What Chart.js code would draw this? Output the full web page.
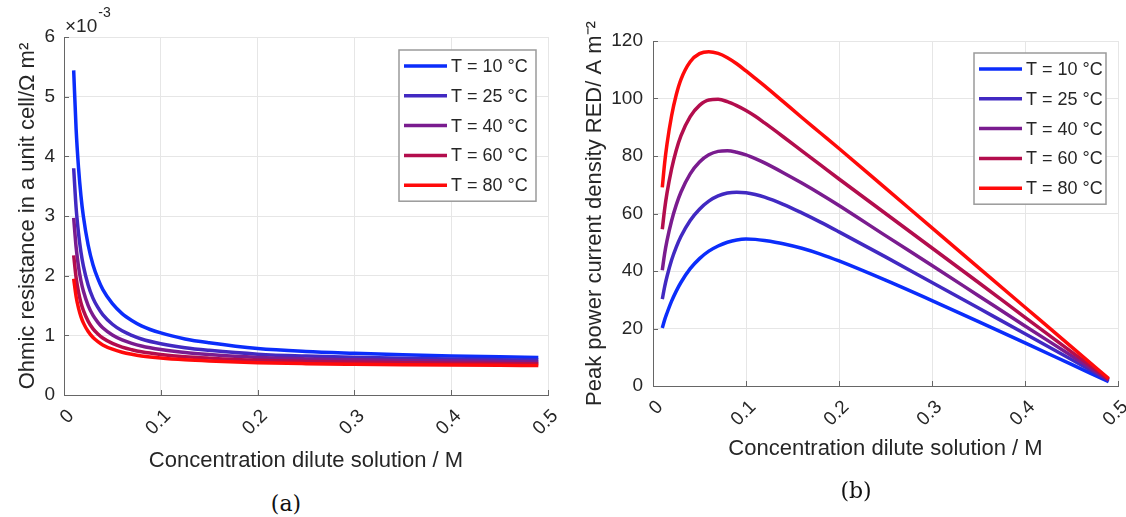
<!DOCTYPE html>
<html>
<head>
<meta charset="utf-8">
<title>Ohmic resistance and peak power current density</title>
<script src="https://cdn.jsdelivr.net/npm/chart.js@4.4.1/dist/chart.umd.min.js"></script>
<style>
  html, body { margin: 0; padding: 0; background: #fff; }
  body { width: 1126px; height: 517px; position: relative; overflow: hidden; }
  .panel { position: absolute; top: 0; }
  #panelA { left: 0; width: 560px; height: 480px; }
  #panelB { left: 560px; width: 566px; height: 480px; }
  .caption {
    position: absolute;
    font-family: "DejaVu Serif", "Liberation Serif", serif;
    font-size: 22px;
    color: #111;
    transform: translate(-50%, -50%);
  }
</style>
</head>
<body>
<div class="panel" id="panelA"><canvas id="resistanceChart" width="560" height="480"></canvas></div>
<div class="panel" id="panelB"><canvas id="powerChart" width="566" height="480"></canvas></div>
<div class="caption" style="left:286px; top:503px">(a)</div>
<div class="caption" style="left:856px; top:490px">(b)</div>

<script>
// ======================================
// Data
// ======================================

const seriesLabels = ["T = 10 °C", "T = 25 °C", "T = 40 °C", "T = 60 °C", "T = 80 °C"];
const seriesColors = ["#0b2dfb", "#4129c2", "#7a1c8f", "#b30d4d", "#ff0a0a"];

// (a) ohmic resistance in a unit cell, in units of 10^-3 Ω m²
const concA = [0.01, 0.0125, 0.015, 0.0175, 0.02, 0.025, 0.03, 0.035, 0.04, 0.05, 0.06, 0.07,
  0.08, 0.1, 0.125, 0.15, 0.2, 0.25, 0.3, 0.35, 0.4, 0.45, 0.49];
const ohmic10 = [5.44, 4.46, 3.81, 3.34, 2.995, 2.51, 2.18, 1.95, 1.77, 1.53, 1.365, 1.25,
  1.16, 1.04, 0.94, 0.876, 0.78, 0.73, 0.70, 0.675, 0.655, 0.64, 0.63];
const ohmic25 = [3.80, 3.14, 2.71, 2.395, 2.165, 1.84, 1.62, 1.467, 1.347, 1.186, 1.076, 1.0,
  0.939, 0.859, 0.792, 0.749, 0.685, 0.652, 0.632, 0.615, 0.602, 0.592, 0.585];
const ohmic40 = [2.97, 2.48, 2.15, 1.915, 1.742, 1.499, 1.333, 1.218, 1.127, 1.007, 0.924, 0.866,
  0.821, 0.761, 0.711, 0.678, 0.630, 0.605, 0.590, 0.578, 0.568, 0.56, 0.555];
const ohmic60 = [2.34, 1.969, 1.724, 1.547, 1.417, 1.234, 1.109, 1.023, 0.955, 0.864, 0.802, 0.759,
  0.725, 0.68, 0.642, 0.618, 0.582, 0.563, 0.551, 0.542, 0.534, 0.529, 0.525];
const ohmic80 = [1.95, 1.652, 1.455, 1.313, 1.209, 1.063, 0.963, 0.894, 0.839, 0.767, 0.717, 0.682,
  0.655, 0.619, 0.589, 0.569, 0.540, 0.525, 0.516, 0.509, 0.503, 0.498, 0.495];

// (b) peak power current density in the RED stack, A m^-2
const concB = [0.01, 0.0125, 0.015, 0.02, 0.025, 0.03, 0.04, 0.05, 0.06, 0.07, 0.08, 0.09,
  0.1, 0.11, 0.12, 0.14, 0.16, 0.18, 0.2, 0.25, 0.3, 0.35, 0.4, 0.45, 0.49];
const peak10 = [20.2, 23.0, 25.3, 29.5, 33.0, 36.0, 40.8, 44.3, 46.9, 48.7, 50.0, 50.8,
  51.1, 51.0, 50.6, 49.5, 47.9, 45.9, 43.5, 36.8, 29.7, 22.4, 15.0, 7.5, 1.5];
const peak25 = [30.2, 34.5, 38.0, 43.8, 48.3, 52.0, 57.6, 61.5, 64.3, 66.1, 67.1, 67.4,
  67.2, 66.6, 65.7, 63.2, 60.2, 57.0, 53.6, 44.9, 36.0, 27.1, 18.2, 9.2, 1.9];
const peak40 = [40.3, 46.0, 50.5, 57.5, 63.0, 67.4, 73.8, 77.9, 80.4, 81.6, 81.8, 81.3,
  80.4, 79.1, 77.6, 74.2, 70.6, 66.8, 62.8, 52.3, 41.9, 31.4, 20.9, 10.5, 2.1];
const peak60 = [54.5, 61.5, 67.0, 75.5, 82.0, 87.0, 93.7, 97.6, 99.5, 99.7, 98.9, 97.5,
  95.8, 93.8, 91.5, 86.7, 81.8, 76.9, 72.0, 60.0, 48.0, 36.0, 23.9, 11.9, 2.3];
const peak80 = [69.1, 77.5, 84.0, 94.0, 101.3, 106.6, 112.8, 115.6, 116.3, 115.7, 114.2, 112.1,
  109.6, 107.0, 104.4, 98.9, 93.4, 88.0, 82.6, 68.8, 55.0, 41.2, 27.4, 13.6, 2.6];

const xTicks = [0, 0.1, 0.2, 0.3, 0.4, 0.5];

// ======================================
// Shared styling
// ======================================

const FONT = "'Liberation Sans', Arial, Helvetica, sans-serif";
const TEXT_COLOR = "#262626";
const GRID_COLOR = "#e6e6e6";
const AXIS_COLOR = "#666666";

Chart.defaults.font.family = FONT;
Chart.defaults.color = TEXT_COLOR;

function buildDatasets(xs, seriesList) {
  return seriesList.map((values, i) => ({
    label: seriesLabels[i],
    data: values.map((v, k) => ({ x: xs[k], y: v })),
    borderColor: seriesColors[i],
    borderWidth: 3.5,
    pointRadius: 0,
    fill: false,
    cubicInterpolationMode: "monotone",
    order: seriesList.length - i,
  }));
}

// inward tick marks, rotated x labels, boxed legend and the axis exponent
const axisDecor = {
  id: "axisDecor",
  afterDraw(chart, args, opts) {
    const { ctx, chartArea: area } = chart;
    const x = chart.scales.x;
    const y = chart.scales.y;
    ctx.save();

    ctx.strokeStyle = AXIS_COLOR;
    ctx.lineWidth = 1;
    ctx.beginPath();
    x.ticks.forEach((t) => {
      const px = Math.round(x.getPixelForValue(t.value)) + 0.5;
      ctx.moveTo(px, area.bottom);
      ctx.lineTo(px, area.bottom - 5);
    });
    y.ticks.forEach((t) => {
      const py = Math.round(y.getPixelForValue(t.value)) + 0.5;
      ctx.moveTo(area.left, py);
      ctx.lineTo(area.left + 5, py);
    });
    ctx.stroke();

    ctx.fillStyle = TEXT_COLOR;
    ctx.font = "19px " + FONT;
    ctx.textAlign = "right";
    ctx.textBaseline = "middle";
    x.ticks.forEach((t) => {
      const px = x.getPixelForValue(t.value);
      ctx.save();
      ctx.translate(px + 7, area.bottom + 18);
      ctx.rotate(-Math.PI / 4);
      ctx.fillText(String(+t.value.toFixed(1)), 0, 0);
      ctx.restore();
    });

    if (opts.exponent) {
      ctx.textAlign = "left";
      ctx.textBaseline = "alphabetic";
      ctx.font = "19px " + FONT;
      const base = "\u00d710";
      ctx.fillText(base, area.left + 1, area.top - 5);
      const w = ctx.measureText(base).width;
      ctx.font = "14px " + FONT;
      ctx.fillText(opts.exponent, area.left + 2 + w, area.top - 20);
    }

    const lg = opts.legend;
    const datasets = chart.data.datasets;
    const boxRight = area.right - lg.right;
    const boxLeft = boxRight - lg.width;
    const boxTop = area.top + lg.top;
    const boxHeight = lg.pad * 2 + lg.rowHeight * (datasets.length - 1);
    ctx.fillStyle = "#ffffff";
    ctx.fillRect(boxLeft, boxTop, lg.width, boxHeight);
    ctx.strokeStyle = "#9a9a9a";
    ctx.lineWidth = 1.5;
    ctx.strokeRect(boxLeft, boxTop, lg.width, boxHeight);

    ctx.font = "18px " + FONT;
    ctx.textAlign = "left";
    ctx.textBaseline = "middle";
    datasets.forEach((ds, i) => {
      const cy = boxTop + lg.pad + i * lg.rowHeight;
      ctx.strokeStyle = ds.borderColor;
      ctx.lineWidth = ds.borderWidth;
      ctx.beginPath();
      ctx.moveTo(boxLeft + 5, cy);
      ctx.lineTo(boxLeft + 48, cy);
      ctx.stroke();
      ctx.fillStyle = TEXT_COLOR;
      ctx.fillText(ds.label, boxLeft + 52, cy + 1);
    });

    ctx.restore();
  },
};

function makeChart(canvasId, cfg) {
  return new Chart(document.getElementById(canvasId), {
    type: "line",
    data: { datasets: cfg.datasets },
    options: {
      responsive: false,
      animation: false,
      devicePixelRatio: 1,
      layout: { padding: { left: 0, top: cfg.top, right: cfg.right, bottom: 0 } },
      plugins: {
        legend: { display: false },
        tooltip: { enabled: false },
        axisDecor: { legend: cfg.legend, exponent: cfg.exponent },
      },
      scales: {
        x: {
          type: "linear",
          min: 0,
          max: 0.5,
          afterBuildTicks: (scale) => {
            scale.ticks = xTicks.map((v) => ({ value: v }));
          },
          afterFit: (scale) => {
            scale.height = cfg.xHeight;
          },
          ticks: { display: false },
          grid: { color: GRID_COLOR, lineWidth: 1, drawTicks: false },
          border: { display: true, color: AXIS_COLOR, width: 1 },
          title: {
            display: true,
            text: "Concentration dilute solution / M",
            font: { size: 22 },
            color: TEXT_COLOR,
            padding: { top: 0, bottom: cfg.xTitlePad },
          },
        },
        y: {
          type: "linear",
          min: cfg.yMin,
          max: cfg.yMax,
          afterFit: (scale) => {
            scale.width = cfg.yWidth;
          },
          ticks: {
            stepSize: cfg.yStep,
            padding: cfg.yTickPad,
            font: { size: 19 },
            color: TEXT_COLOR,
          },
          grid: { color: GRID_COLOR, lineWidth: 1, drawTicks: false },
          border: { display: true, color: AXIS_COLOR, width: 1 },
          title: {
            display: true,
            text: cfg.yTitle,
            font: { size: 22 },
            color: TEXT_COLOR,
            padding: { top: cfg.yTitlePad, bottom: 0 },
          },
        },
      },
    },
    plugins: [axisDecor],
  });
}

// ======================================
// (a) Ohmic resistance
// ======================================

makeChart("resistanceChart", {
  datasets: buildDatasets(concA, [ohmic10, ohmic25, ohmic40, ohmic60, ohmic80]),
  top: 37,
  right: 12,
  xHeight: 85,
  yWidth: 64,
  xTitlePad: 6,
  yTitlePad: 15,
  yTickPad: 9,
  yMin: 0,
  yMax: 6,
  yStep: 1,
  yTitle: "Ohmic resistance in a unit cell/\u03a9 m\u00b2",
  exponent: "-3",
  legend: { right: 12, top: 13, width: 137, pad: 16, rowHeight: 29.8 },
});

// ======================================
// (b) Peak power current density
// ======================================

makeChart("powerChart", {
  datasets: buildDatasets(concB, [peak10, peak25, peak40, peak60, peak80]),
  top: 41,
  right: 8,
  xHeight: 94,
  yWidth: 93,
  xTitlePad: 18,
  yTitlePad: 22,
  yTickPad: 10,
  yMin: 0,
  yMax: 120,
  yStep: 20,
  yTitle: "Peak power current density RED/ A m\u207b\u00b2",
  exponent: null,
  legend: { right: 12, top: 12, width: 132, pad: 16, rowHeight: 29.8 },
});
</script>
</body>
</html>
